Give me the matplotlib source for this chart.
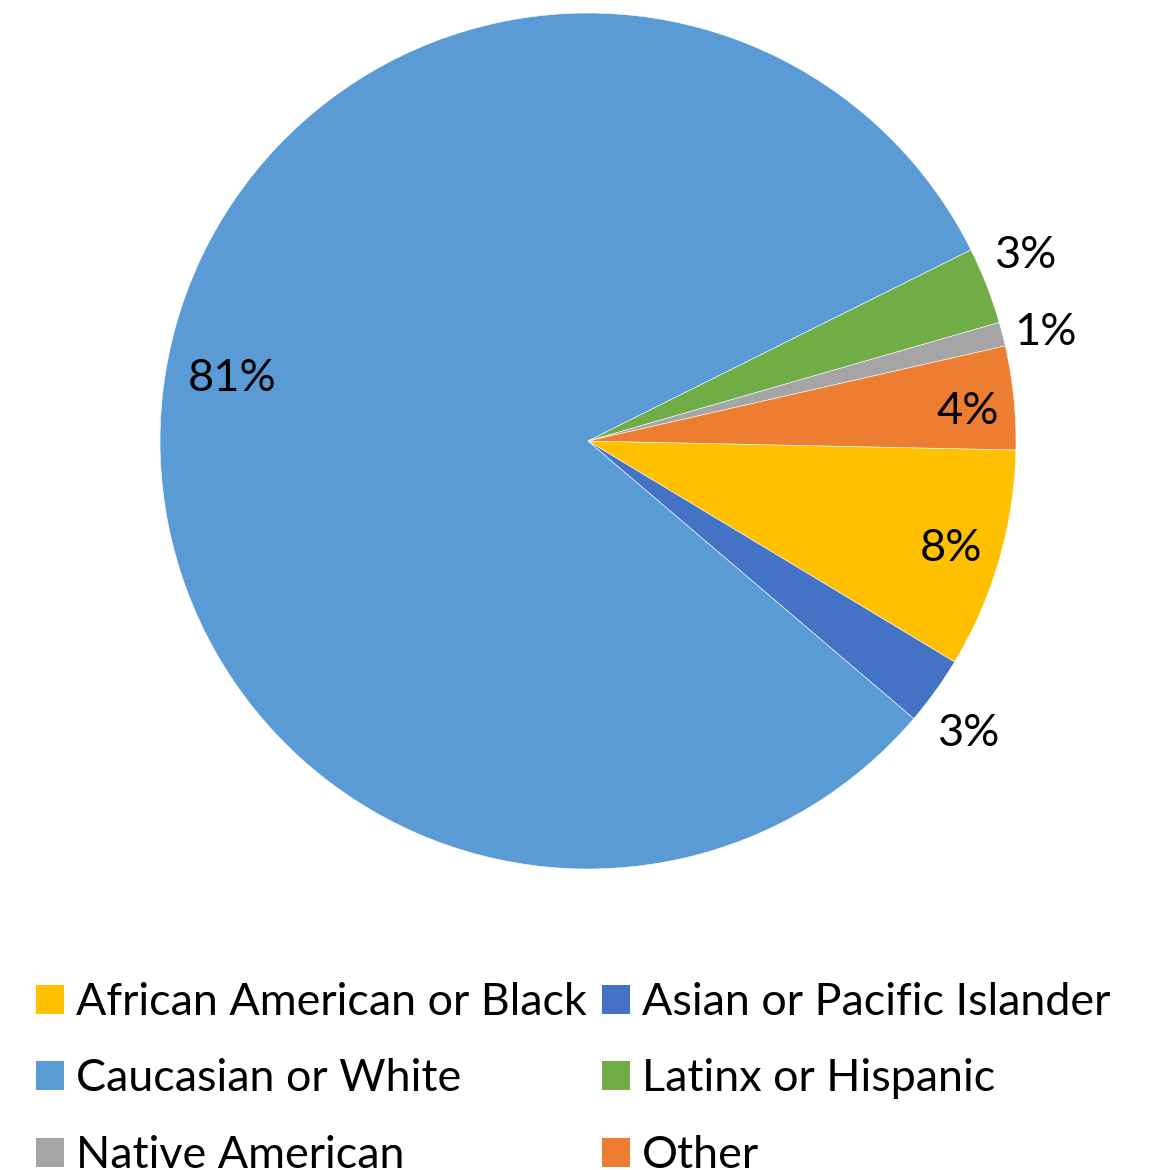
import numpy as np
import matplotlib
matplotlib.use("Agg")
import matplotlib.pyplot as plt
from matplotlib.patches import Patch

categories = ["African American or Black", "Asian or Pacific Islander",
              "Caucasian or White", "Latinx or Hispanic",
              "Native American", "Other"]
values = [8.3, 2.6, 81.4, 2.9, 0.9, 3.9]
labels = ["8%", "3%", "81%", "3%", "1%", "4%"]
colors = ["#FFC000", "#4472C4", "#5B9BD5", "#70AD47", "#A5A5A5", "#ED7D31"]

plt.rcParams['font.family'] = ['Lato', 'DejaVu Sans']

W, H = 1164, 1170
fig = plt.figure(figsize=(W / 100, H / 100), dpi=100)
cx, cy, R = 588, 441, 428
ax = fig.add_axes([(cx - R) / W, (H - cy - R) / H, 2 * R / W, 2 * R / H])
wedges, _ = ax.pie(values, colors=colors, startangle=-1.2, counterclock=False,
                   radius=1.0, wedgeprops=dict(edgecolor="white", linewidth=0.4))
ax.set_xlim(-1, 1)
ax.set_ylim(-1, 1)
ax.set_aspect("equal")
ax.axis("off")

# label placement: radius factor and angle shift per slice
lab_r = [0.885, 1.12, 0.845, 1.11, 1.10, 0.89]
lab_shift = [-0.3, -1.8, -3.0, 1.7, -1.1, -1.4]
for w, lab, r, s in zip(wedges, labels, lab_r, lab_shift):
    mid = np.deg2rad((w.theta1 + w.theta2) / 2 + s)
    ax.text(r * np.cos(mid), r * np.sin(mid), lab, ha="center", va="center",
            fontsize=32.5, color="black")

# legend order: row-wise in two columns
order = [0, 2, 4, 1, 3, 5]
handles = [Patch(facecolor=colors[i], edgecolor="none") for i in order]
names = [categories[i] for i in order]
fs = 32.3
leg = fig.legend(handles, names, ncol=2, loc="upper left",
                 bbox_to_anchor=(36 / W, 1 - 982 / H), frameon=False,
                 fontsize=fs, handlelength=0.62, handleheight=0.62,
                 handletextpad=0.28, columnspacing=0.33, labelspacing=0.79,
                 borderpad=0, borderaxespad=0)

fig.savefig("out.png", dpi=100)
